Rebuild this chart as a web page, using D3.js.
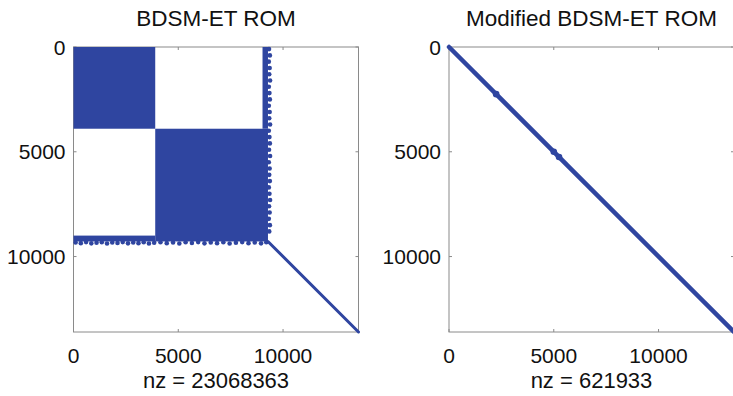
<!DOCTYPE html>
<html>
<head>
<meta charset="utf-8">
<script src="https://cdn.jsdelivr.net/npm/d3@7/dist/d3.min.js"></script>
<style>
  body { margin: 0; background: #fff; }
  svg { display: block; }
  text { font-family: "Liberation Sans", Arial, Helvetica, sans-serif; fill: #111; }
</style>
</head>
<body>
<svg id="chart" width="733" height="396"></svg>
<script>
// matrix sizes (number of rows/cols) and tick values
const matrixSize = [13600, 13600];
const tickValues = [0, 5000, 10000];
const titles = ["BDSM-ET ROM", "Modified BDSM-ET ROM"];
const nzCounts = ["23068363", "621933"];

// left matrix: dense blocks as [rowStart, rowEnd, colStart, colEnd]
const denseBlocks = [
  [0, 3900, 0, 3900],
  [3900, 9280, 3900, 9280],
  [0, 3900, 9020, 9280],   // coupling columns
  [9000, 9280, 0, 3900]    // coupling rows
];
// scattered entries just outside the coupling strips: [row, col]
const raggedBelow = [
  [9330, 100], [9360, 350], [9310, 600], [9370, 850], [9340, 1100], [9320, 1350],
  [9380, 1600], [9330, 1850], [9350, 2100], [9310, 2350], [9370, 2600], [9330, 2850],
  [9360, 3100], [9320, 3350], [9380, 3600], [9340, 3850], [9320, 4150], [9360, 4450],
  [9330, 4750], [9380, 5050], [9320, 5350], [9350, 5650], [9310, 5950], [9370, 6250],
  [9330, 6550], [9360, 6850], [9320, 7150], [9380, 7450], [9340, 7750], [9310, 8050],
  [9360, 8350], [9330, 8650], [9370, 8950], [9320, 9200]
];
const raggedRight = [
  [100, 9330], [400, 9370], [700, 9320], [1000, 9360], [1300, 9340], [1600, 9380],
  [1900, 9320], [2200, 9350], [2500, 9370], [2800, 9320], [3100, 9360], [3400, 9340],
  [3700, 9380], [4000, 9320], [4300, 9350], [4600, 9370], [4900, 9330], [5200, 9380],
  [5500, 9320], [5800, 9360], [6100, 9340], [6400, 9370], [6700, 9320], [7000, 9350],
  [7300, 9380], [7600, 9330], [7900, 9360], [8200, 9320], [8500, 9370], [8800, 9340]
];
// diagonal runs [start, end]
const diagLeft = [9280, 13600];
const diagRight = [0, 13600];
// small clusters along the right diagonal
const diagBumps = [2250, 5000, 5250];

const svg = d3.select("#chart");
const size = 285;
const blue = "#2f45a0";
const panels = [
  { left: 73.5, top: 47 },
  { left: 449, top: 47 }
];

function drawFrame(g, i, x, y) {
  // box
  g.append("rect")
    .attr("x", 0).attr("y", 0)
    .attr("width", size).attr("height", size)
    .attr("fill", "none")
    .attr("stroke", "#8a8a8a")
    .attr("stroke-width", 1);

  // inward ticks on all four sides
  tickValues.forEach(function(t) {
    g.append("line").attr("x1", x(t)).attr("x2", x(t)).attr("y1", size).attr("y2", size - 3).attr("stroke", "#8a8a8a");
    g.append("line").attr("x1", x(t)).attr("x2", x(t)).attr("y1", 0).attr("y2", 3).attr("stroke", "#8a8a8a");
    g.append("line").attr("y1", y(t)).attr("y2", y(t)).attr("x1", 0).attr("x2", 3).attr("stroke", "#8a8a8a");
    g.append("line").attr("y1", y(t)).attr("y2", y(t)).attr("x1", size).attr("x2", size - 3).attr("stroke", "#8a8a8a");
  });

  g.selectAll("text.xtick")
    .data(tickValues)
    .enter().append("text")
    .attr("class", "xtick")
    .attr("x", d => x(d))
    .attr("y", size + 31)
    .attr("text-anchor", "middle")
    .style("font-size", "21px")
    .text(d => d);

  g.selectAll("text.ytick")
    .data(tickValues)
    .enter().append("text")
    .attr("class", "ytick")
    .attr("x", -8)
    .attr("y", d => y(d))
    .attr("dy", "0.36em")
    .attr("text-anchor", "end")
    .style("font-size", "21px")
    .text(d => d);

  g.append("text")
    .attr("x", size / 2)
    .attr("y", -21)
    .attr("text-anchor", "middle")
    .style("font-size", "22.5px")
    .text(titles[i]);

  g.append("text")
    .attr("x", size / 2)
    .attr("y", size + 56)
    .attr("text-anchor", "middle")
    .style("font-size", "22px")
    .text("nz = " + nzCounts[i]);
}

panels.forEach(function(p, i) {
  const x = d3.scaleLinear().domain([0, matrixSize[i]]).range([0, size]);
  const y = d3.scaleLinear().domain([0, matrixSize[i]]).range([0, size]);
  p.g = svg.append("g").attr("transform", "translate(" + p.left + "," + p.top + ")");
  drawFrame(p.g, i, x, y);
  p.x = x; p.y = y;
});

// left spy plot
const L = panels[0];
L.g.selectAll("rect.block")
  .data(denseBlocks)
  .enter().append("rect")
  .attr("class", "block")
  .attr("x", d => L.x(d[2]))
  .attr("y", d => L.y(d[0]))
  .attr("width", d => L.x(d[3]) - L.x(d[2]))
  .attr("height", d => L.y(d[1]) - L.y(d[0]))
  .attr("fill", blue);

L.g.selectAll("circle.rag")
  .data(raggedBelow.concat(raggedRight))
  .enter().append("circle")
  .attr("class", "rag")
  .attr("cx", d => L.x(d[1]))
  .attr("cy", d => L.y(d[0]))
  .attr("r", 2.3)
  .attr("fill", blue);

L.g.append("line")
  .attr("x1", L.x(diagLeft[0])).attr("y1", L.y(diagLeft[0]))
  .attr("x2", L.x(diagLeft[1])).attr("y2", L.y(diagLeft[1]))
  .attr("stroke", blue)
  .attr("stroke-width", 3)
  .attr("stroke-linecap", "round");

// right spy plot
const R = panels[1];
R.g.append("line")
  .attr("x1", R.x(diagRight[0])).attr("y1", R.y(diagRight[0]))
  .attr("x2", R.x(diagRight[1])).attr("y2", R.y(diagRight[1]))
  .attr("stroke", blue)
  .attr("stroke-width", 4.5)
  .attr("stroke-linecap", "round");

R.g.selectAll("circle.bump")
  .data(diagBumps)
  .enter().append("circle")
  .attr("class", "bump")
  .attr("cx", d => R.x(d))
  .attr("cy", d => R.y(d))
  .attr("r", 3.3)
  .attr("fill", blue);
</script>
</body>
</html>
